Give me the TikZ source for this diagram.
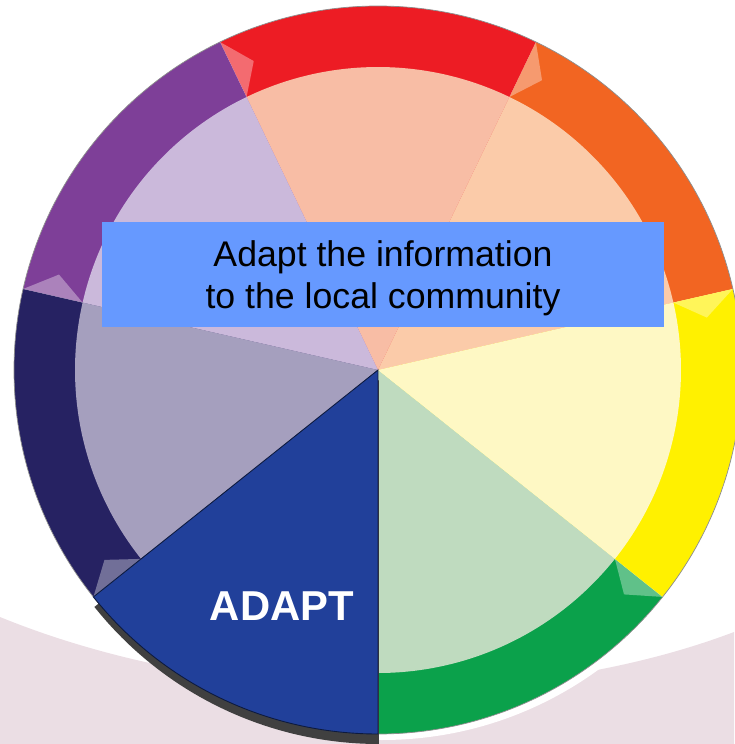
\documentclass[tikz,border=0pt]{standalone}
\usepackage{fontspec}
\setmainfont{Liberation Sans}
\usepackage{xcolor}
\usetikzlibrary{positioning}

\definecolor{bandpink}{HTML}{EBDEE4}
\definecolor{ringorange}{HTML}{F26522}
\definecolor{paleorange}{HTML}{FBCBA9}
\definecolor{ringred}{HTML}{ED1C24}
\definecolor{palered}{HTML}{F8BDA5}
\definecolor{ringpurple}{HTML}{7E3F98}
\definecolor{palepurple}{HTML}{CBB9DB}
\definecolor{ringnavy}{HTML}{262262}
\definecolor{palenavy}{HTML}{A59FBE}
\definecolor{adaptblue}{HTML}{21409A}
\definecolor{ringgreen}{HTML}{0BA14B}
\definecolor{palegreen}{HTML}{BFDBBF}
\definecolor{ringyellow}{HTML}{FFF100}
\definecolor{paleyellow}{HTML}{FEF8C4}
\definecolor{boxblue}{HTML}{6699FF}

\tikzset{
  infobox/.style={fill=boxblue, minimum width=11.24cm, minimum height=2.1cm, align=center,
    text depth=0pt, font=\fontsize{20.3}{24}\selectfont},
  adaptlabel/.style={text=white, font=\fontsize{23.8}{28}\selectfont\bfseries},
  tipmark/.style={fill=white, opacity=0.35}
}

\begin{document}
\begin{tikzpicture}[x=0.02cm,y=0.02cm]
\useasboundingbox (-378,-374) rectangle (356,370);

\fill[bandpink] (-378,-247) .. controls (-150,-340) and (150,-340) .. (356,-262) -- (356,-374) -- (-378,-374) -- cycle;
\fill[white] (4,-2) circle (368);

\fill[ringorange] (0,0) -- (12.86:364) arc[start angle=12.86, end angle=64.29, radius=364] -- cycle;
\fill[ringred] (0,0) -- (64.29:364) arc[start angle=64.29, end angle=115.71, radius=364] -- cycle;
\fill[ringpurple] (0,0) -- (115.71:364) arc[start angle=115.71, end angle=167.14, radius=364] -- cycle;
\fill[ringnavy] (0,0) -- (167.14:364) arc[start angle=167.14, end angle=218.57, radius=364] -- cycle;
\fill[ringgreen] (0,0) -- (270:364) arc[start angle=270, end angle=321.43, radius=364] -- cycle;
\fill[ringyellow] (0,0) -- (321.43:364) arc[start angle=321.43, end angle=372.86, radius=364] -- cycle;
\draw[black!45, line width=0.4pt] (0,0) circle (364);

\fill[paleorange] (0,0) -- (12.86:303) arc[start angle=12.86, end angle=64.29, radius=303] -- cycle;
\fill[palered] (0,0) -- (64.29:303) arc[start angle=64.29, end angle=115.71, radius=303] -- cycle;
\fill[palepurple] (0,0) -- (115.71:303) arc[start angle=115.71, end angle=167.14, radius=303] -- cycle;
\fill[palenavy] (0,0) -- (167.14:303) arc[start angle=167.14, end angle=218.57, radius=303] -- cycle;
\fill[palegreen] (0,0) -- (270:303) arc[start angle=270, end angle=321.43, radius=303] -- cycle;
\fill[paleyellow] (0,0) -- (321.43:303) arc[start angle=321.43, end angle=372.86, radius=303] -- cycle;

\foreach \b in {12.86,64.29,115.71,167.14,218.57,321.43}
  \fill[tipmark] (\b:364) -- (\b-3.8:333) -- (\b:303) -- cycle;

% highlighted step
\fill[black!75] (1,-10) -- ++(218.57:364) arc[start angle=218.57, end angle=270, radius=364] -- cycle;
\filldraw[draw=black!60!adaptblue, fill=adaptblue, line width=0.5pt] (0,0) -- (218.57:364) arc[start angle=218.57, end angle=270, radius=364] -- cycle;
\node[adaptlabel] (adapt) at (-96,-236) {ADAPT};

\node[infobox] (info) at (5,95.5) {Adapt the information\\to the local community};
\end{tikzpicture}
\end{document}
